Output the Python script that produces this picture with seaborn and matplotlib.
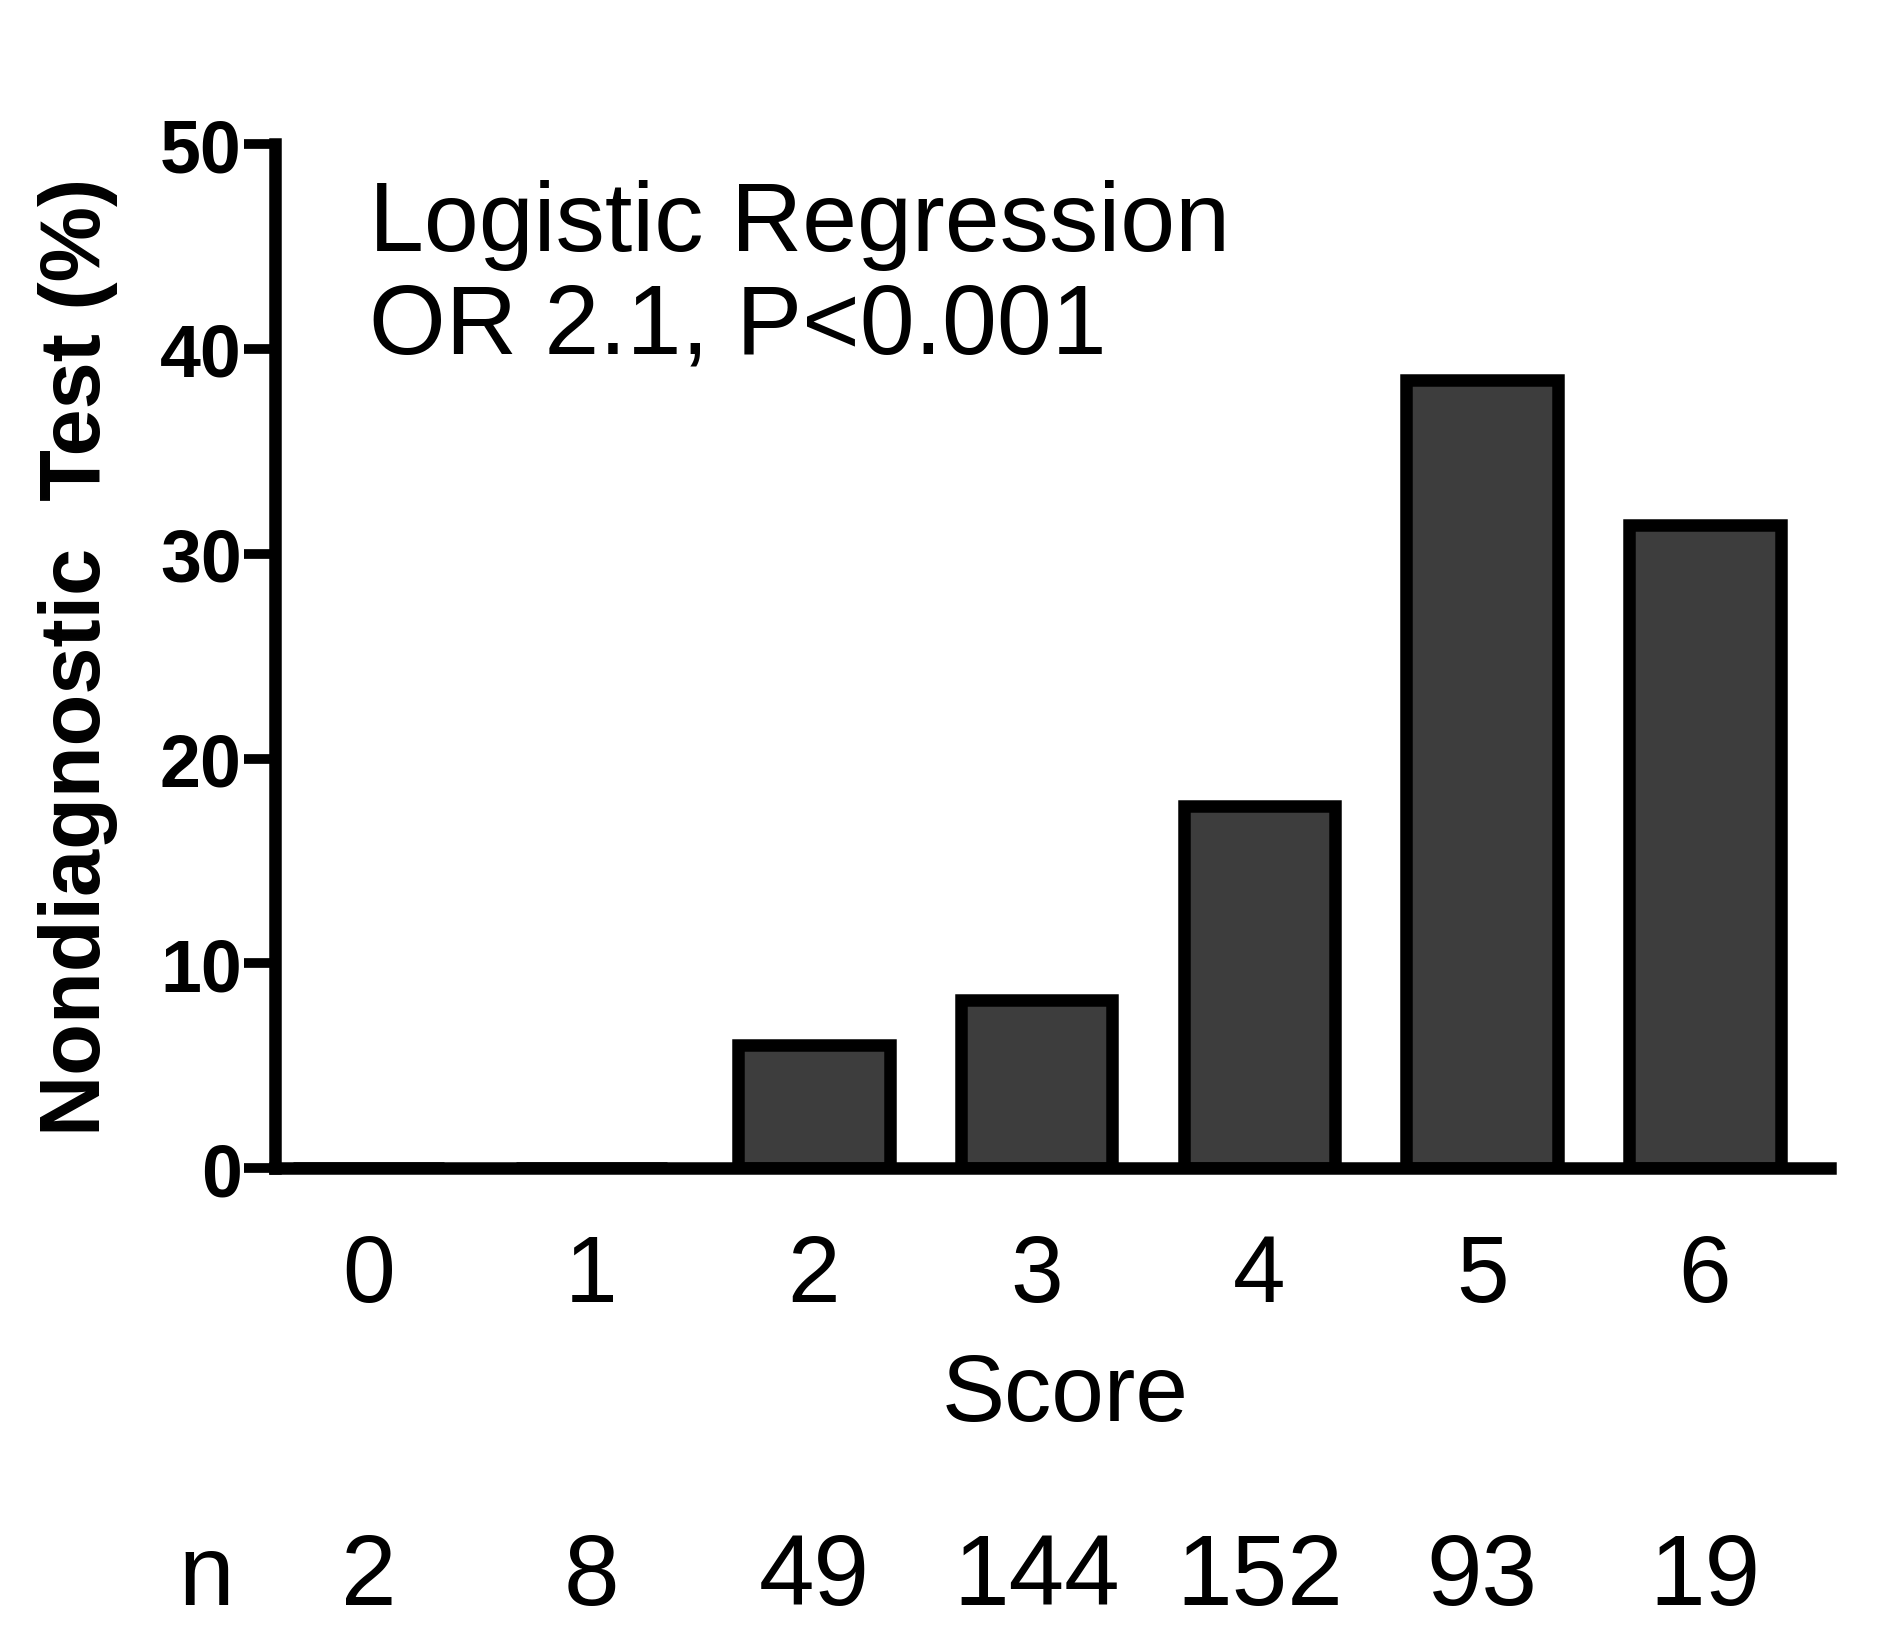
import numpy as np
import pandas as pd
import matplotlib
matplotlib.use("Agg")
import matplotlib.pyplot as plt
import seaborn as sns

# values
scores = ["0", "1", "2", "3", "4", "5", "6"]
pct_nondiag = [0.0, 0.0, 6.0, 8.2, 17.7, 38.5, 31.4]
n_counts = ["2", "8", "49", "144", "152", "93", "19"]
y_ticks = [0, 10, 20, 30, 40, 50]

df = pd.DataFrame({"Score": scores, "Pct": pct_nondiag})

sns.set_style("ticks")
plt.rcParams["font.family"] = ["Liberation Sans", "DejaVu Sans"]
plt.rcParams["text.color"] = "black"
plt.rcParams["axes.labelcolor"] = "black"
plt.rcParams["xtick.color"] = "black"
plt.rcParams["ytick.color"] = "black"

fig = plt.figure(figsize=(18.9, 16.49), dpi=100)
ax = fig.add_axes([0.1455, 0.291, 0.8225, 0.621])

sns.barplot(data=df, x="Score", y="Pct", order=scores, color="#3d3d3d",
            saturation=1, width=0.68, edgecolor="black", linewidth=9, ax=ax)

ax.set_xlim(-0.42, 6.56)
ax.set_ylim(0, 50)
ax.set_yticks(y_ticks)
ax.set_yticklabels([str(t) for t in y_ticks], fontsize=53, fontweight="bold")
ax.tick_params(axis="y", length=22, width=7, pad=2, color="black")
ax.tick_params(axis="x", length=0, pad=46, labelsize=68)

for side in ["top", "right"]:
    ax.spines[side].set_visible(False)
for side in ["left", "bottom"]:
    ax.spines[side].set_linewidth(9)
    ax.spines[side].set_color("black")
    ax.spines[side].set_capstyle("projecting")

ax.set_xlabel("")
ax.set_ylabel("Nondiagnostic  Test (%)", fontsize=61, fontweight="bold", va="center")
ax.yaxis.set_label_coords(-0.127, 0.5)

# annotation
ax.text(0, 48.3, "Logistic Regression\nOR 2.1, P<0.001", fontsize=71,
        ha="left", va="top", linespacing=1.16)

# x axis title and n row below the axis
ax.text(3.13, -11.1, "Score", fontsize=68, ha="center", va="center", clip_on=False)
ax.text(-0.73, -20.0, "n", fontsize=72, ha="center", va="center", clip_on=False)
for i, n in enumerate(n_counts):
    ax.text(i, -20.0, n, fontsize=72, ha="center", va="center", clip_on=False)

fig.savefig("out.png", dpi=100, facecolor="white")
plt.close(fig)
